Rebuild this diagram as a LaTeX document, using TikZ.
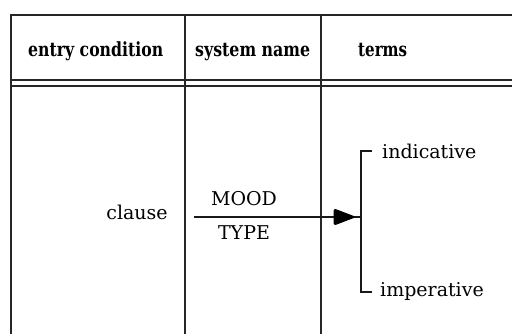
\documentclass[tikz,border=0pt]{standalone}
\usepackage{fontspec}
\usepackage{graphicx}
\setmainfont{DejaVu Serif}
\usetikzlibrary{calc}
% heavy header label squeezed to a given width
\newcommand{\headtext}[2]{\resizebox{#1}{\height}{\fontsize{19.5}{21}\selectfont\bfseries #2}}
\begin{document}
\begin{tikzpicture}[x=1pt,y=-1pt,
  rule/.style={line width=1.8pt, draw=black!85},
  headlbl/.style={inner sep=0pt, anchor=base west},
  body/.style={inner sep=0pt, font=\fontsize{19}{21}\selectfont},
  wire/.style={line width=1.5pt, draw=black!90},
  tiphead/.style={fill=black, draw=black, line width=1pt, rounded corners=2pt}]
\useasboundingbox (0,0) rectangle (512,334);
% table frame, open at right and bottom
\draw[rule, line width=2pt] (11,334) -- (11,15) -- (512,15);
\draw[rule] (11,80) -- (512,80);
\draw[rule] (11,86) -- (512,86);
\draw[rule] (185,15) -- (185,334);
\draw[rule] (321,15) -- (321,334);
% column headings
\node[headlbl] (hentry) at (28,57) {\headtext{135pt}{entry condition}};
\node[headlbl] (hsys) at (195,57) {\headtext{115pt}{system name}};
\node[headlbl] (hterms) at (358,57) {\headtext{49pt}{terms}};
% system network
\node[body, anchor=base] (clause) at (137,220) {clause};
\node[body, anchor=base] (mood) at (244,206) {MOOD};
\node[body, anchor=base] (type) at (244,240) {TYPE};
\coordinate (start) at (194,217);
\coordinate (join) at (361,217);
\coordinate (tip) at (355,217);
\coordinate (top) at (361,151);
\coordinate (bot) at (361,292);
\coordinate (tickA) at (372,151);
\coordinate (tickB) at (372,292);
\node[body, anchor=base west] (ind) at (382,159) {indicative};
\node[body, anchor=base west] (imp) at (380,296) {imperative};
% entry arrow into the choice bracket
\draw[wire] (start) -- (join);
\path[tiphead] (tip) -- ($(tip)+(-21,-8)$) -- ($(tip)+(-21,8)$) -- cycle;
\draw[wire] (tickA) -- (top) -- (bot) -- (tickB);
\end{tikzpicture}
\end{document}
